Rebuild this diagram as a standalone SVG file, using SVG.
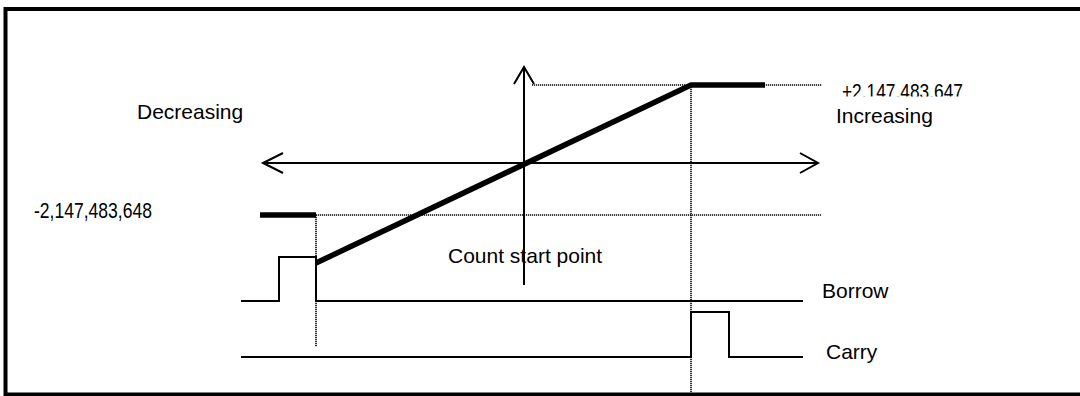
<svg xmlns="http://www.w3.org/2000/svg" width="1080" height="396" viewBox="0 0 1080 396">
<style>
.thin{fill:none;stroke:#000;stroke-width:2}
.dot{fill:none;stroke:#000;stroke-width:1.6;stroke-dasharray:1.2 0.8}
.thick{fill:none;stroke:#000;stroke-width:5.5}
.lbl{font-family:"Liberation Sans",Arial,sans-serif;font-size:21px;fill:#000}
.num{font-family:"Liberation Sans Narrow","Liberation Sans",Arial,sans-serif;font-size:22.5px;fill:#000}
</style>
<defs>
<clipPath id="clipTop"><rect x="800" y="60" width="200" height="36.5"/></clipPath>
</defs>
<rect id="frame" x="5.5" y="9" width="1090" height="385.5" fill="none" stroke="#000" stroke-width="4"/>
<g id="connectors">
<g id="guides">
<line class="dot" x1="532" y1="85" x2="822" y2="85"/>
<line class="dot" x1="316" y1="215" x2="821" y2="215"/>
<line class="dot" x1="316" y1="215" x2="316" y2="347"/>
<line class="dot" x1="691" y1="85" x2="691" y2="394"/>
</g>
<g id="v-axis">
<line class="thin" x1="524" y1="67" x2="524" y2="285"/>
<polyline class="thin" points="514,84 524,67 534,84"/>
</g>
<g id="h-axis">
<line class="thin" x1="263" y1="163" x2="818" y2="163"/>
<polyline class="thin" points="283,153 263,163 283,173"/>
<polyline class="thin" points="800,153 818,163 800,173"/>
</g>
<g id="count-line">
<line class="thick" x1="260" y1="215" x2="316" y2="215"/>
<polyline class="thick" points="316,263 691,85 765,85" stroke-linejoin="round"/>
</g>
<g id="borrow-signal">
<polyline class="thin" points="241,301 279,301 279,257 316,257 316,301 803,301"/>
</g>
<g id="carry-signal">
<polyline class="thin" points="241,357 691,357 691,312 729,312 729,357 803,357"/>
</g>
</g>
<g id="label-decreasing"><text class="lbl" x="137" y="119">Decreasing</text></g>
<g id="label-increasing"><text class="lbl" x="836" y="123">Increasing</text></g>
<g id="label-max"><text class="num" x="842" y="99" textLength="121" lengthAdjust="spacingAndGlyphs" clip-path="url(#clipTop)">+2,147,483,647</text></g>
<g id="label-min"><text class="num" x="34" y="217.5" textLength="118" lengthAdjust="spacingAndGlyphs">-2,147,483,648</text></g>
<g id="label-start"><text class="lbl" x="448" y="263">Count start point</text></g>
<g id="label-borrow"><text class="lbl" x="822" y="298">Borrow</text></g>
<g id="label-carry"><text class="lbl" x="826" y="359">Carry</text></g>
</svg>
